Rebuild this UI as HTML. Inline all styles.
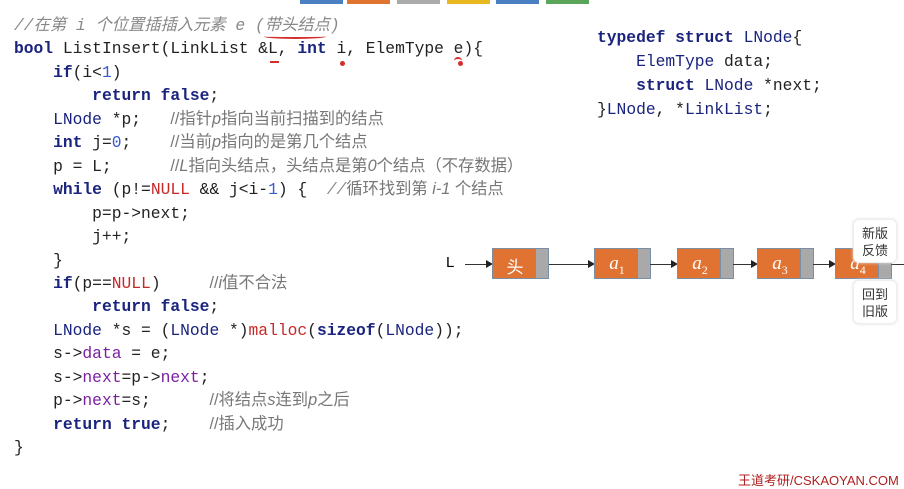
<!DOCTYPE html>
<html><head><meta charset="utf-8"><style>
body{margin:0;width:904px;height:478px;background:#fff;position:relative;overflow:hidden;font-family:"Liberation Mono","Noto Sans CJK SC",monospace;}
.c{position:absolute;left:14px;top:0;font-size:16.3px;line-height:23.45px;white-space:pre;color:#222;}
.k{color:#1a237e;font-weight:bold}
.n{color:#3a5bd0}
.r{color:#c62828}
.m{color:#888;font-style:italic}
.cm{color:#777;font-family:"Liberation Sans","Noto Sans CJK SC",sans-serif;}
.t{color:#1a237e}
.p{color:#7b1fa2}
.tab{position:absolute;top:0;height:4px;width:43px}
.nd{position:absolute;top:248px;height:31px;width:57px;background:#e07232;border:1px solid #7a8fa6;box-sizing:border-box}
.nd i{position:absolute;right:0;top:0;width:12px;height:100%;background:#a9a9a9;border-left:1px solid #7a8fa6}
.nd span{position:absolute;left:0;width:44px;text-align:center;top:4px;color:#fff;font-family:"Liberation Serif",serif;font-style:italic;font-size:19px}
.ln{position:absolute;height:1px;background:#333;top:264px}
.ar{position:absolute;top:260px;width:0;height:0;border-left:7px solid #222;border-top:4px solid transparent;border-bottom:4px solid transparent}
.btn{position:absolute;left:853px;width:44px;height:44px;background:#fff;border:1px solid #eee;border-radius:6px;box-shadow:0 0 3px #ddd;font-family:"Liberation Sans","Noto Sans CJK SC",sans-serif;font-size:13px;line-height:17px;text-align:center;color:#333;padding-top:5px;box-sizing:border-box}
</style></head><body>
<div class="tab" style="left:300px;background:#4a7fc1"></div>
<div class="tab" style="left:347px;background:#e07232"></div>
<div class="tab" style="left:397px;background:#aaa"></div>
<div class="tab" style="left:447px;background:#e8b820"></div>
<div class="tab" style="left:496px;background:#4a7fc1"></div>
<div class="tab" style="left:546px;background:#5aa55a"></div>
<div class="c" style="top:14px"><span class="m">//在第 i 个位置插插入元素 e (带头结点)</span>
<span class="k">bool</span> ListInsert(LinkList &amp;L, <span class="k">int</span> i, ElemType e){
    <span class="k">if</span>(i&lt;<span class="n">1</span>)
        <span class="k">return false</span>;
    <span class="t">LNode</span> *p;   <span class="cm">//指针<i>p</i>指向当前扫描到的结点</span>
    <span class="k">int</span> j=<span class="n">0</span>;    <span class="cm">//当前<i>p</i>指向的是第几个结点</span>
    p = L;      <span class="cm">//<i>L</i>指向头结点，头结点是第<i>0</i>个结点（不存数据）</span>
    <span class="k">while</span> (p!=<span class="r">NULL</span> &amp;&amp; j&lt;i-<span class="n">1</span>) {  <span class="m">//</span><span class="cm">循环找到第 <i>i-1</i> 个结点</span>
        p=p-&gt;next;
        j++;
    }
    <span class="k">if</span>(p==<span class="r">NULL</span>)     <span class="cm">//<i>i</i>值不合法</span>
        <span class="k">return false</span>;
    <span class="t">LNode</span> *s = (<span class="t">LNode</span> *)<span class="r">malloc</span>(<span class="k">sizeof</span>(<span class="t">LNode</span>));
    s-&gt;<span class="p">data</span> = e;
    s-&gt;<span class="p">next</span>=p-&gt;<span class="p">next</span>;
    p-&gt;<span class="p">next</span>=s;      <span class="cm">//将结点<i>s</i>连到<i>p</i>之后</span>
    <span class="k">return true</span>;    <span class="cm">//插入成功</span>
}</div>
<div style="position:absolute;left:264px;top:34px;width:62px;height:3px;border-bottom:2px solid #d32f2f;border-radius:0 0 50% 50%"></div>
<div style="position:absolute;left:270px;top:61px;width:9px;height:2px;background:#d32f2f"></div>
<div style="position:absolute;left:340px;top:61px;width:5px;height:5px;border-radius:50%;background:#d32f2f"></div>
<div style="position:absolute;left:454px;top:57px;width:8px;height:6px;border-top:2px solid #d32f2f;border-radius:50% 50% 0 0"></div>
<div style="position:absolute;left:458px;top:61px;width:5px;height:5px;border-radius:50%;background:#d32f2f"></div>
<div class="c" style="left:597px;top:26px;line-height:24px"><span class="k">typedef struct</span> <span class="t">LNode</span>{
    <span class="t">ElemType</span> data;
    <span class="k">struct</span> <span class="t">LNode</span> *next;
}<span class="t">LNode</span>, *<span class="t">LinkList</span>;</div>
<div style="position:absolute;left:446px;top:254px;font-family:'Liberation Sans',sans-serif;font-size:15px">L</div>
<div class="ln" style="left:465px;width:22px"></div><div class="ar" style="left:486px"></div>
<div class="nd" style="left:492px"><span style="font-style:normal;font-family:'Noto Sans CJK SC',sans-serif;font-size:17px">头</span><i></i></div>
<div class="ln" style="left:549px;width:39px"></div><div class="ar" style="left:588px"></div>
<div class="nd" style="left:594px"><span>a<sub style="font-size:12px;font-style:normal">1</sub></span><i></i></div>
<div class="ln" style="left:650px;width:21px"></div><div class="ar" style="left:671px"></div>
<div class="nd" style="left:677px"><span>a<sub style="font-size:12px;font-style:normal">2</sub></span><i></i></div>
<div class="ln" style="left:733px;width:18px"></div><div class="ar" style="left:751px"></div>
<div class="nd" style="left:757px"><span>a<sub style="font-size:12px;font-style:normal">3</sub></span><i></i></div>
<div class="ln" style="left:813px;width:16px"></div><div class="ar" style="left:829px"></div>
<div class="nd" style="left:835px"><span>a<sub style="font-size:12px;font-style:normal">4</sub></span><i></i></div>
<div class="ln" style="left:891px;width:13px"></div>
<div class="btn" style="top:219px">新版<br>反馈</div>
<div class="btn" style="top:280px">回到<br>旧版</div>
<div style="position:absolute;left:738px;top:470px;color:#b02020;font-family:'Liberation Sans','Noto Sans CJK SC',sans-serif;font-size:13px;white-space:nowrap">王道考研/CSKAOYAN.COM</div>
</body></html>
